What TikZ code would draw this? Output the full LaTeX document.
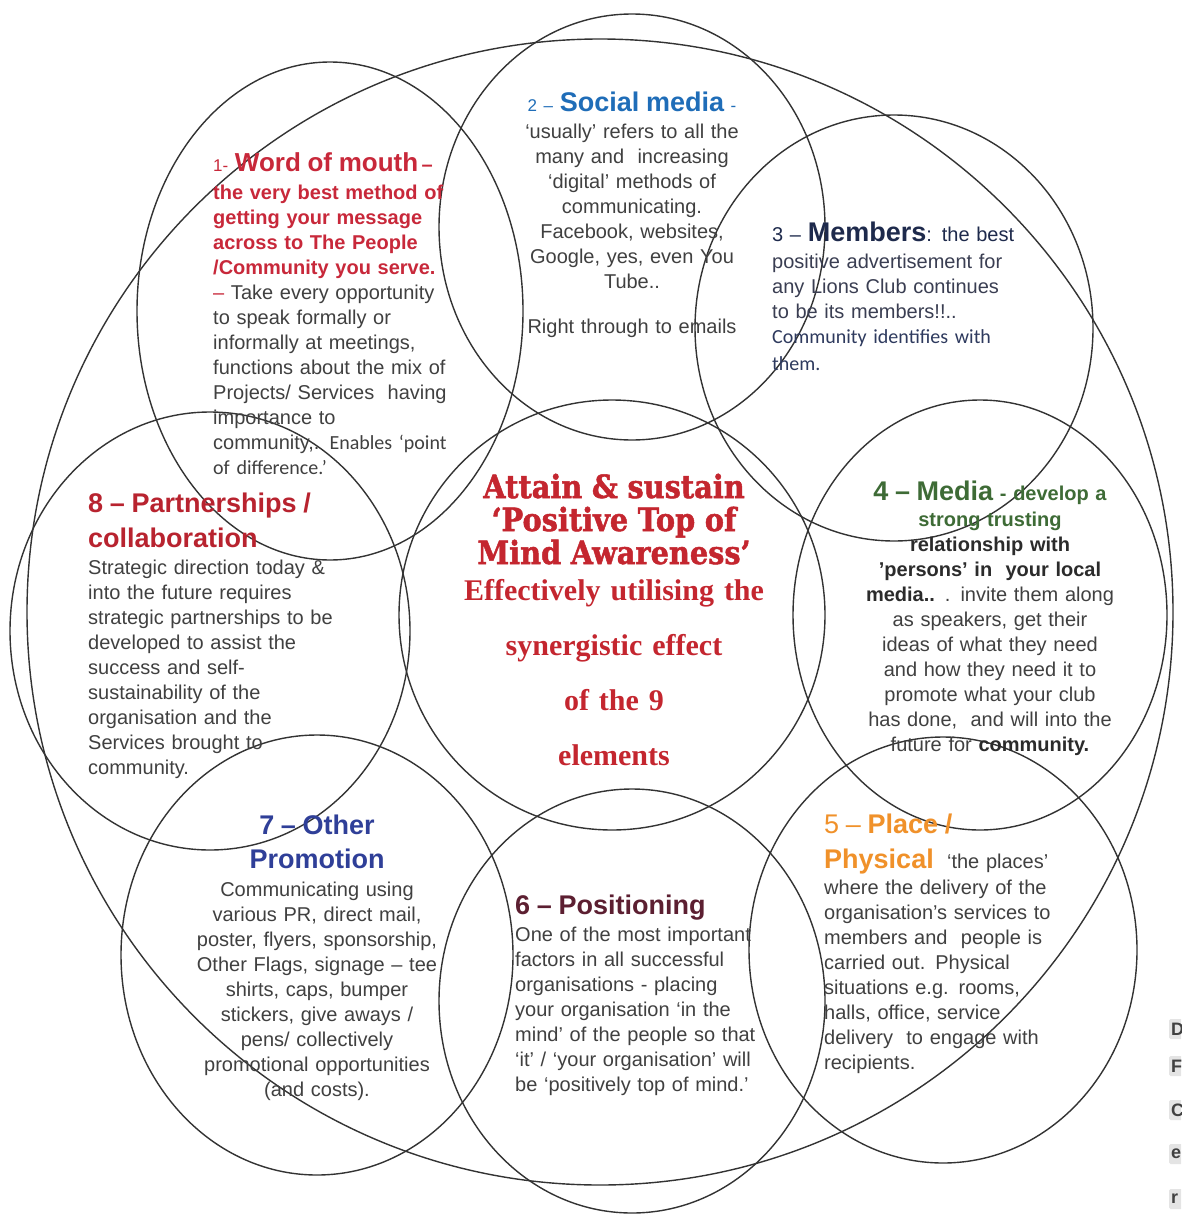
\documentclass[tikz,border=0pt]{standalone}
\usepackage{graphicx}
\usepackage{fontspec}
\setmainfont{Liberation Sans}
\newfontfamily\timesf{Liberation Serif}
\newfontfamily\dispf[BoldFeatures={FakeBold=1.6}]{DejaVu Serif}
\newfontfamily\carlf{Carlito}
\definecolor{linec}{HTML}{333333}
\definecolor{bodyc}{HTML}{404040}
\definecolor{boldc}{HTML}{2B2B2B}
\definecolor{c1}{HTML}{C8283A}
\definecolor{c2}{HTML}{1F6DB8}
\definecolor{c3}{HTML}{1E2A4C}
\definecolor{c3t}{HTML}{3A3E52}
\definecolor{c3c}{HTML}{2E3A5E}
\definecolor{c4}{HTML}{3E6B36}
\definecolor{c5}{HTML}{F0912A}
\definecolor{c6}{HTML}{5C1F31}
\definecolor{c7}{HTML}{2F3F98}
\definecolor{c8}{HTML}{B8232F}
\definecolor{cm}{HTML}{C4262F}
\definecolor{strayc}{HTML}{E4E4E4}
\newcommand\hdsz{\bfseries\fontsize{27}{25}\selectfont}
\newcommand\smsz{\fontsize{17}{25}\selectfont}
\begin{document}
\begin{tikzpicture}[x=1pt,y=-1pt,
  ring/.style={draw=linec, line width=1.4pt},
  body/.style={inner sep=0pt, text=bodyc, font=\fontsize{20}{25}\selectfont, text width=#1},
  body/.default=340pt,
  lbody/.style={body=#1, align=left, anchor=base west},
  lbody/.default=340pt,
  cbody/.style={body=#1, align=center, anchor=base},
  cbody/.default=340pt,
  stray/.style={anchor=west, fill=strayc, text=darkgray, font=\bfseries\fontsize{18}{18}\selectfont,
    minimum height=20pt, text width=22pt, align=left, inner xsep=2pt, rounded corners=1.5pt}]
\fill[white] (0,0) rectangle (1181,1215);
\useasboundingbox (0,0) rectangle (1181,1215);
\begin{scope}
\clip (0,0) rectangle (1181,1215);
% rings
\draw[ring] (600,612) circle [radius=573pt];
\draw[ring] (330,311) ellipse [x radius=193pt, y radius=249pt];
\draw[ring] (632,227) ellipse [x radius=193pt, y radius=213pt];
\draw[ring] (894,328) ellipse [x radius=199pt, y radius=213pt];
\draw[ring] (980,615) ellipse [x radius=187pt, y radius=215pt];
\draw[ring] (943,950) ellipse [x radius=194pt, y radius=213pt];
\draw[ring] (632,1001) ellipse [x radius=193pt, y radius=212pt];
\draw[ring] (317,955) ellipse [x radius=196pt, y radius=220pt];
\draw[ring] (210,631) ellipse [x radius=200pt, y radius=219pt];
\draw[ring] (612,615) ellipse [x radius=213pt, y radius=215pt];

% 1 word of mouth
\node[lbody] (t1) at (213,171) {%
{\color{c1}{\smsz 1- }{\bfseries\fontsize{26}{25}\selectfont Word of mouth}\,{\bfseries –}}\\[3pt]
{\color{c1}\bfseries the very best method of}\\
{\color{c1}\bfseries getting your message}\\
{\color{c1}\bfseries across to The People}\\
{\color{c1}\bfseries /Community you serve.}\\
{\color{c1}–} Take every opportunity\\
to speak formally or\\
informally at meetings,\\
functions about the mix of\\
Projects/ Services\ \ having\\
importance to\\
community,. {\carlf Enables ‘point}\\
{\carlf of difference.’}};

% 2 social media
\node[cbody] (t2) at (632,111) {%
{\color{c2}{\smsz 2 – }{\hdsz Social media}{\smsz\ -}}\\[2pt]
‘usually’ refers to all the\\
many and\ \ increasing\\
‘digital’ methods of\\
communicating.\\
Facebook, websites,\\
Google, yes, even You\\
Tube..\\[20pt]
Right through to emails};

% 3 members
\node[lbody, text=c3t] (t3) at (772,241) {%
{\color{c3}3 – {\hdsz Members}: the best}\\[2pt]
positive advertisement for\\
any Lions Club continues\\
to be its members!!..\\
{\color{c3c}\carlf Community identifies with}\\[2pt]
{\color{c3c}\carlf them.}};

% 4 media
\node[cbody] (t4) at (990,500) {%
{\color{c4}\bfseries{\fontsize{27}{25}\selectfont 4 – Media} - develop a}\\[1pt]
{\color{c4}\bfseries strong trusting}\\
{\color{boldc}\bfseries relationship with}\\
{\color{boldc}\bfseries ’persons’ in\ \ your local}\\
{\color{boldc}\bfseries media..} . invite them along\\
as speakers, get their\\
ideas of what they need\\
and how they need it to\\
promote what your club\\
has done,\ \ and will into the\\
future for {\color{boldc}\bfseries community.}};

% 5 place
\node[lbody] (t5) at (824,833) {%
{\color{c5}\fontsize{27}{25}\selectfont 5 – {\bfseries Place /}}\\[10pt]
{\color{c5}\hdsz Physical}\ \ ‘the places’\\[1pt]
where the delivery of the\\
organisation’s services to\\
members and\ \ people is\\
carried out. Physical\\
situations e.g. rooms,\\
halls, office, service\\
delivery\ \ to engage with\\
recipients.};

% 6 positioning
\node[lbody] (t6) at (515,914) {%
{\color{c6}\hdsz 6 – Positioning}\\[2pt]
One of the most important\\
factors in all successful\\
organisations - placing\\
your organisation ‘in the\\
mind’ of the people so that\\
‘it’ / ‘your organisation’ will\\
be ‘positively top of mind.’};

% 7 other promotion
\node[cbody] (t7) at (317,834) {%
{\color{c7}\hdsz 7 – Other}\\[9pt]
{\color{c7}\hdsz Promotion}\\[3pt]
Communicating using\\
various PR, direct mail,\\
poster, flyers, sponsorship,\\
Other Flags, signage – tee\\
shirts, caps, bumper\\
stickers, give aways /\\
pens/ collectively\\
promotional opportunities\\
(and costs).};

% 8 partnerships
\node[lbody] (t8) at (88,512) {%
{\color{c8}\hdsz 8 – Partnerships /}\\[9pt]
{\color{c8}\hdsz collaboration}\\[2pt]
Strategic direction today \&\\
into the future requires\\
strategic partnerships to be\\
developed to assist the\\
success and self-\\
sustainability of the\\
organisation and the\\
Services brought to\\
community.};

% centre
\node[inner sep=0pt, text width=380pt, align=center, anchor=base, text=cm,
  font=\dispf\bfseries\fontsize{32}{33}\selectfont] (ct) at (614,498) {%
\scalebox{0.9}[1]{Attain \& sustain}\\
\scalebox{0.9}[1]{‘Positive Top of}\\
\scalebox{0.9}[1]{Mind Awareness’}};
\node[inner sep=0pt, text width=380pt, align=center, anchor=base, text=cm,
  font=\timesf\bfseries\fontsize{30}{55}\selectfont] (cs) at (614,600) {%
Effectively utilising the\\
synergistic effect\\
of the 9\\
elements};

% stray clipped labels at right edge
\node[stray] (s1) at (1169,1029) {D};
\node[stray] (s2) at (1169,1066) {F};
\node[stray] (s3) at (1169,1110) {C};
\node[stray] (s4) at (1169,1154) {e};
\node[stray] (s5) at (1169,1199) {r};
\end{scope}
\end{tikzpicture}
\end{document}
